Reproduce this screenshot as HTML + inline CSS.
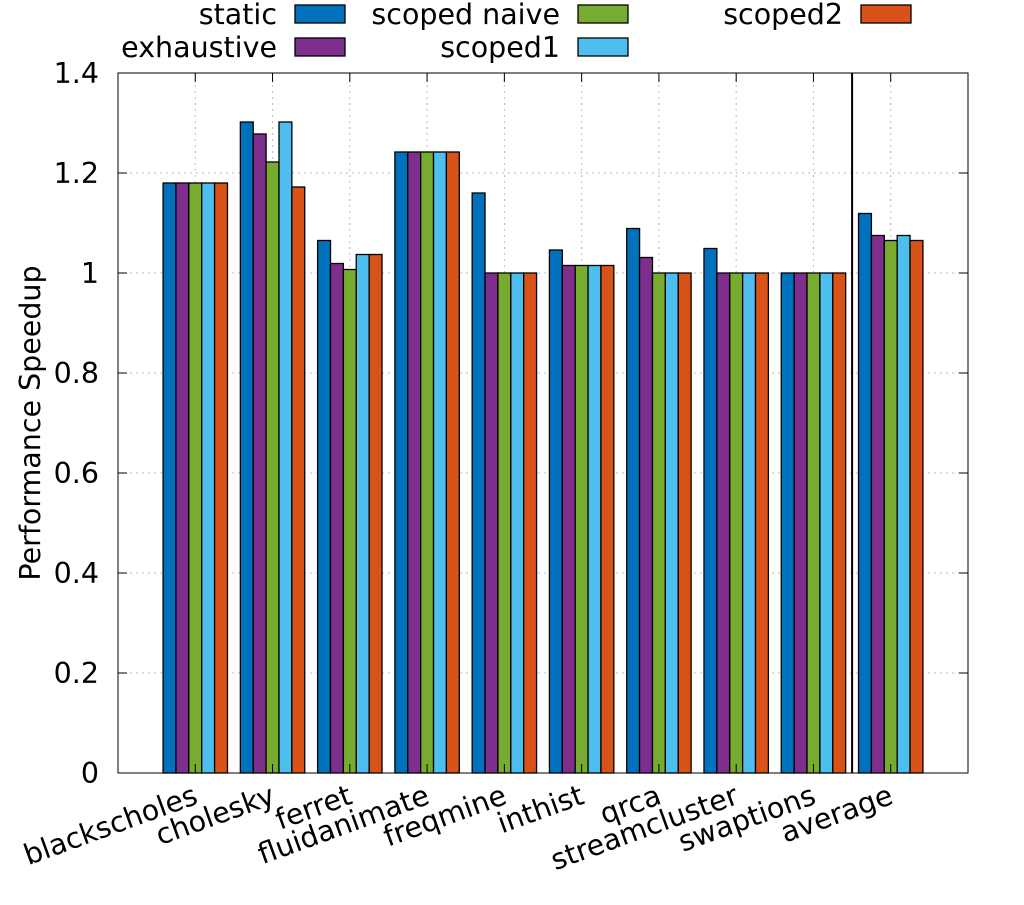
<!DOCTYPE html>
<html><head><meta charset="utf-8"><style>
html,body{margin:0;padding:0;background:#fff;}
svg text{font-family:"DejaVu Sans","Liberation Sans",sans-serif;fill:#000;}
</style></head><body>
<svg id="chart" width="1024" height="900" xmlns="http://www.w3.org/2000/svg">
<g id="grid"></g>
<g id="bars"></g>
<g id="axes"></g>
<g id="legend"></g>
<text transform="translate(40,423) rotate(-90)" text-anchor="middle" font-size="28.5">Performance Speedup</text>
</svg>
<script>
const categories=["blackscholes","cholesky","ferret","fluidanimate","freqmine","inthist","qrca","streamcluster","swaptions","average"];
const seriesNames=["static","exhaustive","scoped naive","scoped1","scoped2"];
const staticVals=[1.18,1.302,1.065,1.242,1.16,1.046,1.089,1.049,1.0,1.119];
const exhaustiveVals=[1.18,1.278,1.019,1.242,1.0,1.015,1.031,1.0,1.0,1.075];
const naiveVals=[1.18,1.222,1.007,1.242,1.0,1.015,1.0,1.0,1.0,1.065];
const scoped1Vals=[1.18,1.302,1.037,1.242,1.0,1.015,1.0,1.0,1.0,1.075];
const scoped2Vals=[1.18,1.172,1.037,1.242,1.0,1.015,1.0,1.0,1.0,1.065];
const yTicks=[0,0.2,0.4,0.6,0.8,1,1.2,1.4];
const series=[staticVals,exhaustiveVals,naiveVals,scoped1Vals,scoped2Vals];
const colors=["#0072bd","#7e2f8e","#77ac30","#4dbeee","#d95319"];
const NS="http://www.w3.org/2000/svg";
const L=118,R=968,T=73,B=773,yMax=1.4;
const slot=(R-L)/(categories.length+1);
const bw=slot/6;
const X=i=>L+(i+1)*slot;
const Y=v=>B-(v/yMax)*(B-T);
function mk(p,tag,a){const e=document.createElementNS(NS,tag);for(const k in a)e.setAttribute(k,a[k]);p.appendChild(e);return e;}
const grid=document.getElementById('grid'),bars=document.getElementById('bars'),axes=document.getElementById('axes'),leg=document.getElementById('legend');
yTicks.forEach(t=>{
 if(t>0&&t<yMax){const g=mk(grid,'line',{x1:L,x2:R,y1:Y(t),y2:Y(t),stroke:'#bbb','stroke-dasharray':'2,4'});
 }
 const tk=mk(axes,'path',{d:`M${L},${Y(t)}h9M${R},${Y(t)}h-9`,stroke:'#000'});
 
 const lb=mk(axes,'text',{x:L-19,y:Y(t)+10,'text-anchor':'end','font-size':28.5});
 lb.textContent=(t===0||t===1)?String(t):t.toFixed(1);
 
});
categories.forEach((c,i)=>{
 const g=mk(grid,'line',{x1:X(i),x2:X(i),y1:T,y2:B,stroke:'#bbb','stroke-dasharray':'2,4'});
 
 series.forEach((s,j)=>{
  const x=X(i)-2.5*bw+j*bw;
  const r=mk(bars,'rect',{x:x,y:Y(s[i]),width:bw,height:B-Y(s[i]),fill:colors[j],stroke:'#000','stroke-width':1.3});
  
  
 });
 const tk=mk(axes,'path',{d:`M${X(i)},${B}v-9M${X(i)},${T}v9`,stroke:'#000'});
 
 const lb=mk(axes,'text',{transform:`translate(${X(i)+4},${B+30}) rotate(-20)`,'text-anchor':'end','font-size':28.5});
 lb.textContent=c;
 
});
const fr=mk(axes,'rect',{x:L,y:T,width:R-L,height:B-T,fill:'none',stroke:'#000','stroke-width':1});

const sep=mk(axes,'line',{x1:(X(8)+X(9))/2,x2:(X(8)+X(9))/2,y1:T,y2:B,stroke:'#000','stroke-width':2});

const lpos=[[277,14],[277,47],[560,14],[560,47],[843,14]];
seriesNames.forEach((n,j)=>{
 const [tx,ty]=lpos[j];
 const t=mk(leg,'text',{x:tx,y:ty+10,'text-anchor':'end','font-size':28.5});t.textContent=n;
 
 const r=mk(leg,'rect',{x:tx+18,y:ty-9,width:50,height:18,fill:colors[j],stroke:'#000','stroke-width':1.3});
 
});
</script>
</body></html>
